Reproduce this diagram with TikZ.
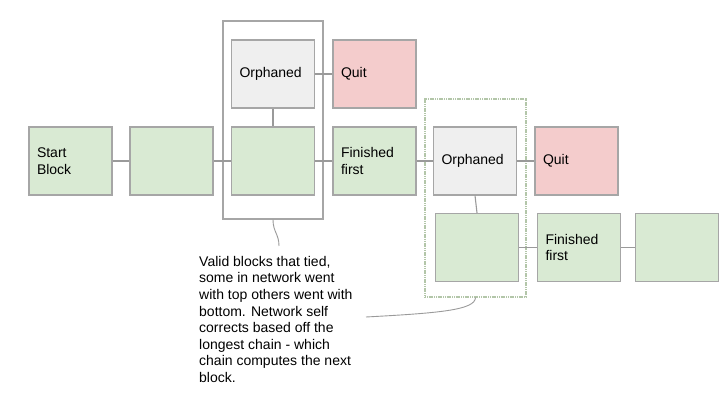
\documentclass[tikz,border=0pt]{standalone}
\usepackage{fontspec}
\setmainfont{Liberation Sans}
\definecolor{gfill}{HTML}{D9EAD3}
\definecolor{ofill}{HTML}{EFEFEF}
\definecolor{qfill}{HTML}{F4CCCC}
\definecolor{bord}{HTML}{A6A6A6}
\definecolor{lnk}{HTML}{9A9A9A}
\definecolor{gbord}{HTML}{B3C6A9}
\begin{document}
\begin{tikzpicture}[x=1pt,y=-1pt,
  blk/.style={draw=bord,line width=1.1pt,minimum width=83pt,minimum height=68pt,inner xsep=8pt,text width=67pt,align=left,font=\fontsize{14}{16.5}\selectfont},
  green/.style={blk,fill=gfill},
  orph/.style={blk,fill=ofill},
  quit/.style={blk,fill=qfill},
  grp/.style={draw=bord,line width=1.1pt,fill=white,minimum width=100pt,minimum height=198pt,inner sep=0pt},
  grp2/.style={draw=gbord,line width=1.1pt,dash pattern=on 1.2pt off 0.6pt,fill=white,minimum width=101pt,minimum height=198pt,inner sep=0pt},
  lnk/.style={draw=lnk,line width=1.1pt},
  note/.style={align=left,inner sep=0pt,anchor=north west,font=\fontsize{14}{16.6}\selectfont}
]
\useasboundingbox (0,0) rectangle (723,406);
\node[grp] (g1) at (273,120) {};
\node[grp2] (g2) at (475.5,198) {};
\node[green] (start) at (70.5,161) {Start\\Block};
\node[green] (b2) at (171.5,161) {};
\node[green] (b3) at (273,161) {};
\node[orph] (o1) at (273,74) {Orphaned};
\node[quit] (q1) at (374.5,74) {Quit};
\node[green] (f1) at (374.5,161) {Finished\\first};
\node[orph] (o2) at (475,161) {Orphaned};
\node[quit] (q2) at (576.5,161) {Quit};
\node[green] (l2) at (477,247.5) {};
\node[green] (f2) at (579,247.5) {Finished\\first};
\node[green] (last) at (677,247.5) {};
\draw[lnk] (start) -- (b2);
\draw[lnk] (b2) -- (b3);
\draw[lnk] (b3) -- (f1);
\draw[lnk] (o1) -- (b3);
\draw[lnk] (o1) -- (q1);
\draw[lnk] (f1) -- (o2);
\draw[lnk] (o2) -- (q2);
\draw[lnk] (o2.south) -- (l2.north);
\draw[lnk] (l2) -- (f2);
\draw[lnk] (f2) -- (last);
\node[note] (txt) at (199,256) {Valid blocks that tied,\\some in network went\\with top others went with\\bottom. Network self\\corrects based off the\\longest chain - which\\chain computes the next\\block.};
\coordinate (c1) at (279,246);
\coordinate (c2) at (366,317);
\draw[lnk,line width=0.9pt] (g1.south) .. controls (273,232) and (279,234) .. (c1);
\draw[lnk,line width=0.9pt] (c2) .. controls (440,313) and (475,310) .. (g2.south);
\end{tikzpicture}
\end{document}
